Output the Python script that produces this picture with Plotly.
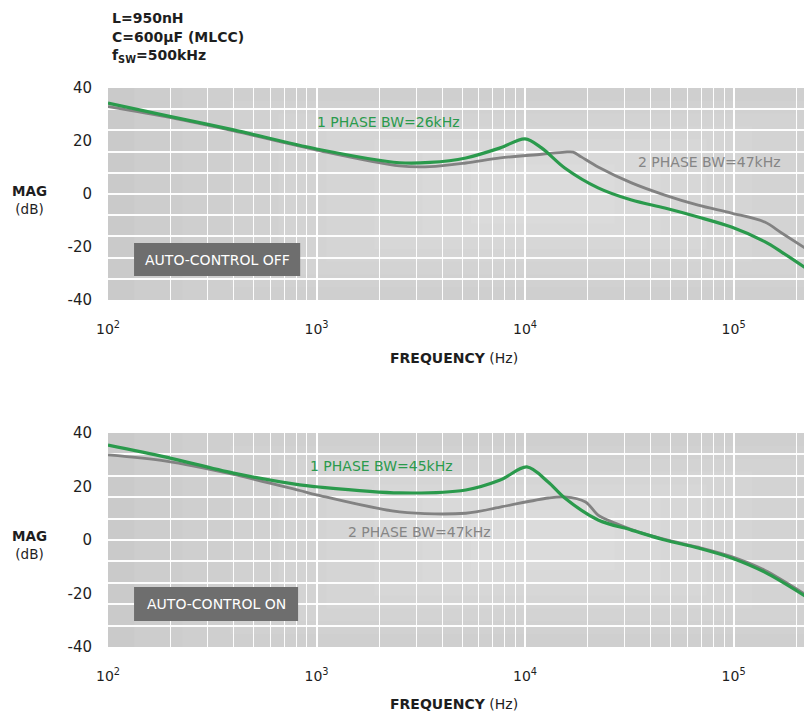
import plotly.graph_objects as go

# ---------------- data ----------------
off_1ph_f = [100, 200, 400, 1000, 2500, 3500, 5200, 7600, 10000, 12000, 15500, 22400, 32400, 46800, 67600, 97700, 141000, 170000, 236000]
off_1ph_db = [34.3, 29.2, 24.2, 17.0, 11.8, 11.9, 13.6, 17.4, 20.8, 17.4, 9.8, 2.3, -2.3, -5.3, -8.7, -12.5, -18.0, -21.9, -29.4]

off_2ph_f = [100, 200, 400, 1000, 2500, 3500, 5200, 7600, 12000, 15500, 17000, 18600, 22400, 32400, 46800, 67600, 97700, 141000, 170000, 236000]
off_2ph_db = [33.0, 28.8, 23.8, 16.6, 10.6, 10.3, 11.7, 13.6, 15.0, 15.8, 15.8, 14.0, 10.2, 4.2, -0.4, -4.2, -7.2, -10.6, -14.7, -21.9]

on_1ph_f = [100, 190, 400, 830, 1000, 2500, 5200, 7600, 10200, 12900, 15500, 22400, 32400, 46800, 67600, 97700, 141000, 236000]
on_1ph_db = [35.5, 31.0, 25.0, 20.6, 19.9, 17.6, 18.7, 22.4, 27.3, 21.7, 15.7, 7.5, 3.7, 0.0, -3.0, -6.7, -12.0, -22.4]

on_2ph_f = [100, 190, 400, 830, 1000, 2500, 5200, 7600, 12900, 15500, 19500, 22400, 27000, 32400, 46800, 67600, 97700, 141000, 236000]
on_2ph_db = [31.8, 29.5, 24.5, 18.5, 16.9, 10.5, 10.0, 12.3, 15.7, 16.1, 14.2, 9.3, 6.3, 3.9, 0.2, -2.7, -6.2, -11.3, -21.8]

x_tickvals = [100, 1000, 10000, 100000]
x_ticktext = ["10<sup>2</sup>", "10<sup>3</sup>", "10<sup>4</sup>", "10<sup>5</sup>"]
x_minorvals = [m * d for d in [100, 1000, 10000, 100000] for m in range(2, 10)]
y_tickvals = [-40, -20, 0, 20, 40]
y_ticktext = ["-40", "-20", "0", "20", "40"]
y_gridvals = [-32, -24, -16, -8, 0, 8, 16, 24, 32]

GREEN = "#2a9a4c"
GRAY = "#828282"
FONT = "DejaVu Sans"
TXT = "#1e1e1e"

fig = go.Figure()

def add_panel(xa, ya, f1, d1, f2, d2):
    fig.add_trace(go.Scatter(x=f2, y=d2, mode="lines", line=dict(color=GRAY, width=2.8, shape="spline", smoothing=0.9),
                             xaxis=xa, yaxis=ya, showlegend=False, hoverinfo="skip"))
    fig.add_trace(go.Scatter(x=f1, y=d1, mode="lines", line=dict(color=GREEN, width=3.2, shape="spline", smoothing=0.9),
                             xaxis=xa, yaxis=ya, showlegend=False, hoverinfo="skip"))

add_panel("x", "y", off_1ph_f, off_1ph_db, off_2ph_f, off_2ph_db)
add_panel("x2", "y2", on_1ph_f, on_1ph_db, on_2ph_f, on_2ph_db)

# page has an 8px body margin: figure pixel = screen pixel - 8
OFF = 8
W, H = 812 - OFF, 714 - OFF
L = 108 - OFF

def ypaper(py):
    return (H - (py - OFF)) / H

def xpaper(px):
    return (px - OFF - L) / (W - L)

top_dom = [ypaper(300), ypaper(88)]
bot_dom = [ypaper(647), ypaper(433)]

xcommon = dict(type="log", range=[2, 5.376], tickvals=x_tickvals, ticktext=x_ticktext,
               showgrid=True, gridcolor="white", gridwidth=2, zeroline=False, showline=False,
               ticks="", ticklabelstandoff=19, automargin=False,
               tickfont=dict(family=FONT, size=14, color=TXT),
               minor=dict(tickmode="array", tickvals=x_minorvals, showgrid=True,
                          gridcolor="rgba(255,255,255,0.95)", gridwidth=1.3, ticks=""),
               fixedrange=True)
ycommon = dict(range=[-40, 40], tickvals=y_tickvals, ticktext=y_ticktext, showgrid=False, zeroline=False, showline=False,
               ticks="", ticklabelstandoff=15, automargin=False,
               tickfont=dict(family=FONT, size=15, color=TXT),
               minor=dict(tickmode="array", tickvals=y_gridvals, showgrid=True,
                          gridcolor="rgba(255,255,255,0.95)", gridwidth=1.5, ticks=""),
               fixedrange=True)

fig.update_layout(
    width=W, height=H,
    margin=dict(l=L, r=0, t=0, b=0, autoexpand=False),
    paper_bgcolor="white",
    plot_bgcolor="#c7c7c7",
    xaxis=dict(**xcommon, domain=[0, 1], anchor="y"),
    yaxis=dict(**ycommon, domain=top_dom, anchor="x"),
    xaxis2=dict(**xcommon, domain=[0, 1], anchor="y2"),
    yaxis2=dict(**ycommon, domain=bot_dom, anchor="x2"),
    font=dict(family=FONT, color=TXT),
)

shapes = []
annotations = []

# soft background glow (styling only)
for xs, ys in [("x domain", "y domain"), ("x2 domain", "y2 domain")]:
    for i in range(9):
        hx = 0.62 - 0.065 * i
        hy = 0.62 - 0.06 * i
        if hx <= 0 or hy <= 0:
            break
        shapes.append(dict(type="rect", xref=xs, yref=ys, x0=max(0.0, 0.62 - hx * 1.05), x1=min(1.0, 0.62 + hx),
                           y0=max(0.0, 0.5 - hy), y1=min(1.0, 0.5 + hy), fillcolor="white", opacity=0.06,
                           line=dict(width=0), layer="below"))

# label boxes
shapes.append(dict(type="rect", xref="x domain", yref="y domain", x0=0.037, x1=0.273, y0=0.113, y1=0.269,
                   fillcolor="#6e6e6e", line=dict(width=0), layer="above"))
shapes.append(dict(type="rect", xref="x2 domain", yref="y2 domain", x0=0.037, x1=0.270, y0=0.121, y1=0.280,
                   fillcolor="#6e6e6e", line=dict(width=0), layer="above"))

def ann(xref, yref, x, y, text, color, size=12):
    return dict(xref=xref, yref=yref, x=x, y=y, text=text, showarrow=False,
                xanchor="center", yanchor="middle", font=dict(family=FONT, size=size, color=color))

annotations += [
    ann("x domain", "y domain", 0.155, 0.191, "AUTO-CONTROL OFF", "white", 14),
    ann("x2 domain", "y2 domain", 0.1535, 0.2005, "AUTO-CONTROL ON", "white", 14),
    ann("x domain", "y domain", 0.398, 0.84, "1 PHASE BW=26kHz", GREEN, 14),
    ann("x domain", "y domain", 0.855, 0.651, "2 PHASE BW=47kHz", "#858585", 14),
    ann("x2 domain", "y2 domain", 0.389, 0.846, "1 PHASE BW=45kHz", GREEN, 14),
    ann("x2 domain", "y2 domain", 0.443, 0.537, "2 PHASE BW=47kHz", "#858585", 14),
]

# axis titles
for ycen in [200, 545]:
    annotations.append(ann("paper", "paper", xpaper(29), ypaper(ycen), "<b>MAG</b><br>(dB)", TXT, 13.5))
for ycen in [358, 704]:
    annotations.append(ann("paper", "paper", xpaper(454), ypaper(ycen), "<b>FREQUENCY</b> (Hz)", TXT, 14))

# parameter block
params = ["<b>L=950nH</b>", "<b>C=600µF (MLCC)</b>", "<b>f<sub>SW</sub>=500kHz</b>"]
for txt, ycen in zip(params, [18, 37, 56]):
    a = ann("paper", "paper", xpaper(110), ypaper(ycen), txt, TXT, 14)
    a["xanchor"] = "left"
    annotations.append(a)

fig.update_layout(shapes=shapes, annotations=annotations)
fig.write_html("out.html")
